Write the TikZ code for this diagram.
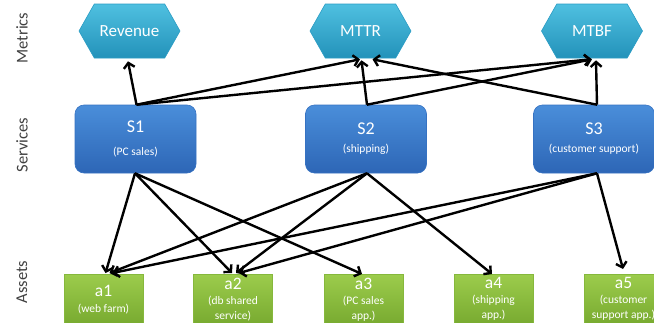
\documentclass[tikz,border=0pt]{standalone}
\usepackage{fontspec}
\setmainfont{Carlito}
\usetikzlibrary{shapes.symbols,arrows.meta}
\definecolor{hexTop}{HTML}{4FC0E0}
\definecolor{hexBot}{HTML}{2392BA}
\definecolor{hexEdge}{HTML}{2A9CC4}
\definecolor{svcTop}{HTML}{4A8EDA}
\definecolor{svcBot}{HTML}{2D66B6}
\definecolor{svcEdge}{HTML}{3672C2}
\definecolor{astTop}{HTML}{9CCC4C}
\definecolor{astBot}{HTML}{78AA30}
\definecolor{astEdge}{HTML}{86B83C}
\definecolor{lblGray}{HTML}{404040}
\newcommand{\svcsub}{\fontsize{11.5}{13}\selectfont}
\newcommand{\astsub}{\fontsize{11.5}{13}\selectfont}
\begin{document}
\begin{tikzpicture}[x=1pt,y=-1pt,
  metric/.style={signal, signal to=west and east, signal pointer angle=121,
    minimum width=101pt, minimum height=54pt, inner sep=0pt,
    top color=hexTop, bottom color=hexBot, draw=hexEdge, line width=0.6pt,
    text=white, font=\fontsize{17}{19}\selectfont},
  service/.style={rectangle, rounded corners=9pt, minimum width=121pt, minimum height=68pt,
    inner sep=0pt, top color=svcTop, bottom color=svcBot, draw=svcEdge, line width=0.6pt,
    text=white, align=center, font=\fontsize{18}{19}\selectfont},
  asset/.style={rectangle, minimum width=79pt, minimum height=50pt, inner sep=0pt,
    anchor=north, top color=astTop, bottom color=astBot, draw=astEdge, line width=0.6pt,
    text=white, align=center, font=\fontsize{17.5}{15}\selectfont},
  layer/.style={rotate=90, text=lblGray, font=\fontsize{16.5}{18}\selectfont},
  link/.style={line width=2.4pt, -{Straight Barb[length=5pt,width=11pt]}}
]
\useasboundingbox (0,0) rectangle (654,322);
\clip (0,0) rectangle (654,322);

% layer labels
\node[layer] (lm) at (22,38) {Metrics};
\node[layer] (ls) at (22,145) {Services};
\node[layer] (la) at (22,282) {Assets};

% metrics
\node[metric] (rev) at (129.5,31) {Revenue};
\node[metric] (mttr) at (360.5,31) {MTTR};
\node[metric] (mtbf) at (592,31) {MTBF};

% services
\node[service] (s1) at (135.5,139) {S1\\[4pt]\svcsub (PC sales)};
\node[service] (s2) at (366,139) {S2\\[-1pt]\svcsub (shipping)};
\node[service] (s3) at (594,139) {S3\\[-1pt]\svcsub (customer support)};

% assets
\node[asset] (a1) at (103.5,274) {a1\\[1pt]\astsub (web farm)};
\node[asset] (a2) at (233,274) {a2\\[0pt]\astsub (db shared\\\astsub service)};
\node[asset] (a3) at (363.5,274) {a3\\[0pt]\astsub (PC sales\\\astsub app.)};
\node[asset] (a4) at (493.5,274) {a4\\[0pt]\astsub (shipping\\\astsub app.)};
\node[asset] (a5) at (623.5,274) {a5\\[0pt]\astsub (customer\\\astsub support app.)};

% service -> metric
\draw[link] ([xshift=1pt]s1.north) -- ([xshift=-1.5pt,yshift=-3pt]rev.south);
\draw[link] ([xshift=1pt]s1.north) -- ([xshift=-0.5pt,yshift=-1pt]mttr.south);
\draw[link] ([xshift=1pt]s1.north) -- ([xshift=-1pt,yshift=-1pt]mtbf.south);
\draw[link] ([xshift=1pt]s2.north) -- ([xshift=1pt,yshift=-2pt]mttr.south);
\draw[link] ([xshift=1pt]s2.north) -- ([xshift=0pt,yshift=-1pt]mtbf.south);
\draw[link] ([xshift=3pt]s3.north) -- ([xshift=12pt,yshift=-1pt]mttr.south);
\draw[link] ([xshift=3pt]s3.north) -- ([xshift=4pt,yshift=-2pt]mtbf.south);

% service -> asset
\draw[link] ([xshift=-0.5pt]s1.south) -- ([xshift=2pt,yshift=1pt]a1.north);
\draw[link] ([xshift=-0.5pt]s1.south) -- ([xshift=-1pt,yshift=1pt]a2.north);
\draw[link] ([xshift=-0.5pt]s1.south) -- ([xshift=-1.5pt,yshift=0pt]a3.north);
\draw[link] ([xshift=1pt]s2.south) -- ([xshift=6pt,yshift=1pt]a1.north);
\draw[link] ([xshift=1pt]s2.south) -- ([xshift=3pt,yshift=1pt]a2.north);
\draw[link] ([xshift=1pt]s2.south) -- ([xshift=-1.5pt,yshift=0pt]a4.north);
\draw[link] ([xshift=3pt]s3.south) -- ([xshift=9pt,yshift=1pt]a1.north);
\draw[link] ([xshift=3pt]s3.south) -- ([xshift=6pt,yshift=1pt]a2.north);
\draw[link] ([xshift=3pt]s3.south) -- ([xshift=-0.5pt,yshift=5pt]a5.north);
\end{tikzpicture}
\end{document}
